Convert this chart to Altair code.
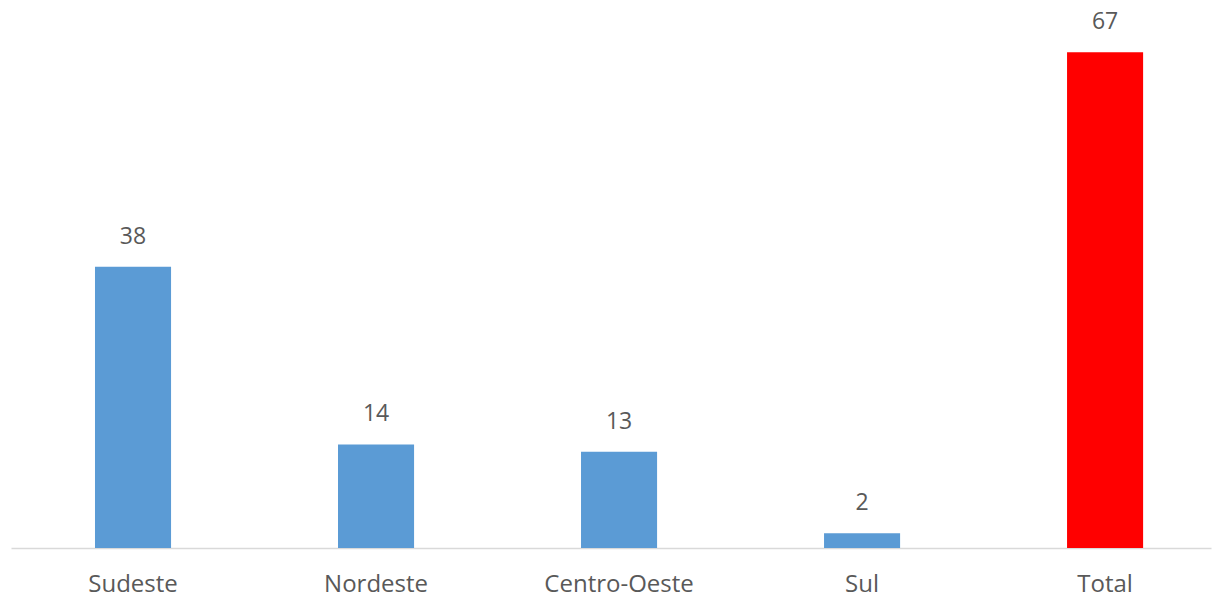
import altair as alt
import pandas as pd

categories = ["Sudeste", "Nordeste", "Centro-Oeste", "Sul", "Total"]
values = [38, 14, 13, 2, 67]
colors = ["#5b9bd5", "#5b9bd5", "#5b9bd5", "#5b9bd5", "#ff0000"]

df = pd.DataFrame({"regiao": categories, "valor": values, "cor": colors})

FONT = "Open Sans"
TEXT = "#595959"

x = alt.X(
    "regiao:N",
    sort=categories,
    title=None,
    scale=alt.Scale(paddingInner=0.687, paddingOuter=0.3125, align=0.553),
    axis=alt.Axis(
        labelAngle=0,
        ticks=False,
        tickSize=0,
        labelPadding=43,
        labelBaseline="alphabetic",
        labelFont=FONT,
        labelFontSize=24,
        labelColor=TEXT,
        domainColor="#d9d9d9",
        domainWidth=1.5,
        grid=False,
    ),
)
y = alt.Y("valor:Q", scale=alt.Scale(domain=[0, 72.7], nice=False), axis=None)

base = alt.Chart(df).encode(x=x, y=y)

bars = base.mark_bar().encode(color=alt.Color("cor:N", scale=None))
labels = base.mark_text(
    baseline="alphabetic", dy=-23, font=FONT, fontSize=23, color=TEXT
).encode(text="valor:Q")

chart = (
    (bars + labels)
    .properties(
        width=1200,
        height=538,
        padding={"left": 11, "right": 1, "top": 10, "bottom": 49},
        autosize=alt.AutoSizeParams(type="none"),
        background="white",
    )
    .configure_view(strokeWidth=0, stroke=None)
)

chart.save("out.html", embed_options={"renderer": "svg", "actions": False})
